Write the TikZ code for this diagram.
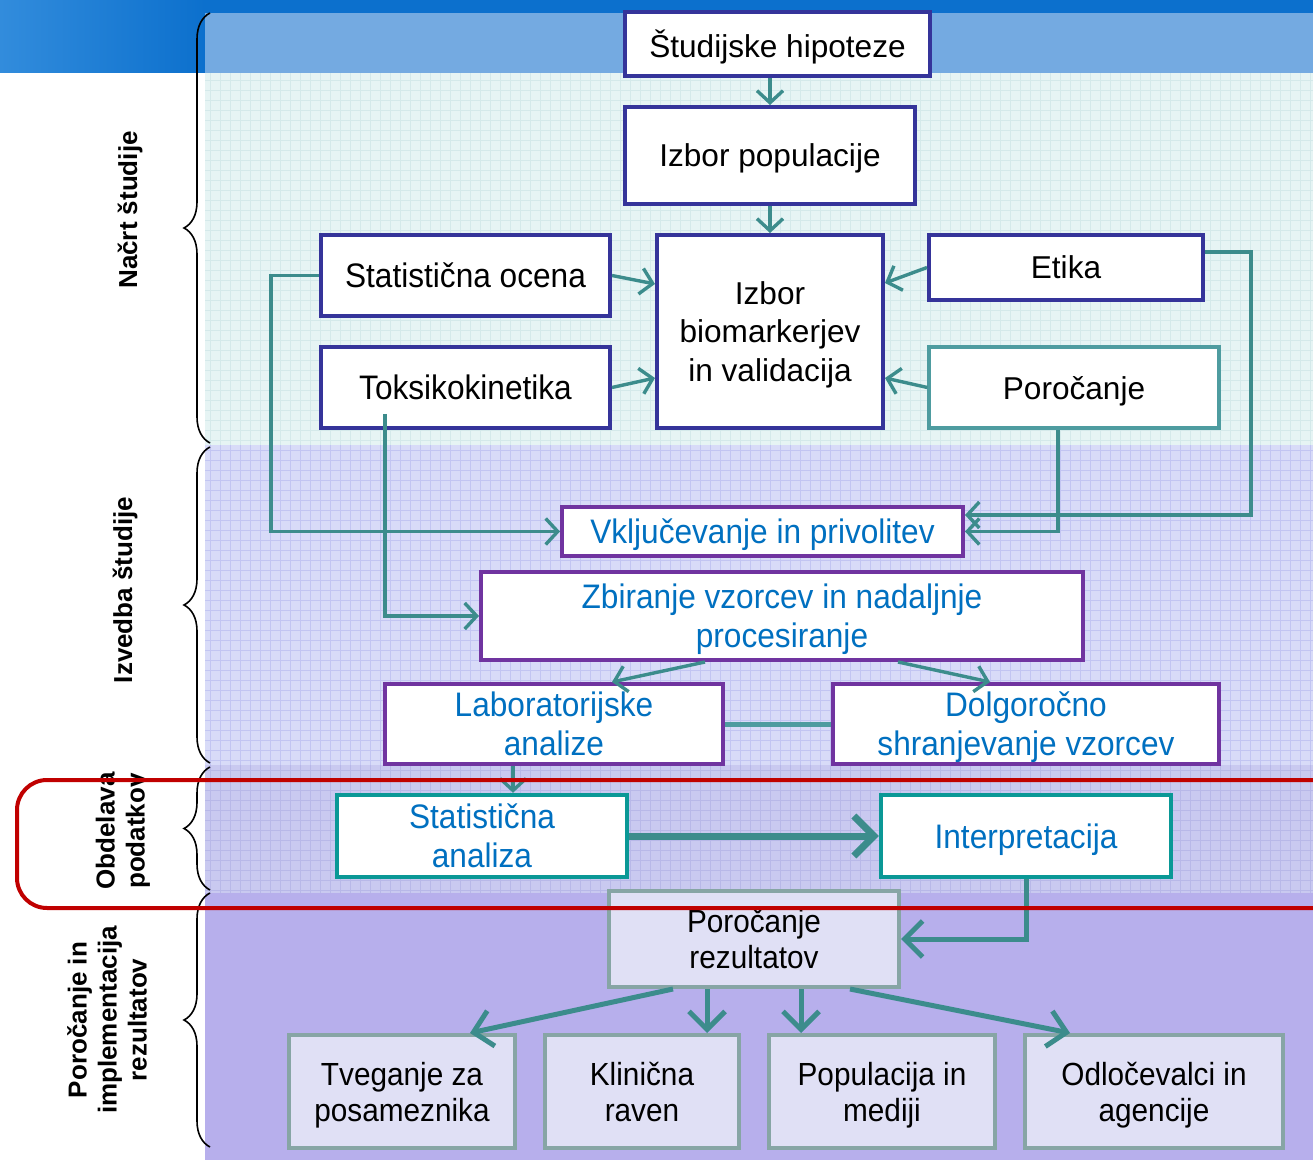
\documentclass[tikz,border=0pt]{standalone}
\usepackage{fontspec}
\setmainfont{Liberation Sans}
\newfontfamily\narrowsf[FakeStretch=0.93]{Liberation Sans}
\usetikzlibrary{positioning,arrows.meta,decorations.pathreplacing}

\definecolor{hypblue}{RGB}{53,52,154}
\definecolor{labpurple}{RGB}{112,52,160}
\definecolor{anateal}{RGB}{10,152,150}
\definecolor{repteal}{RGB}{78,156,160}
\definecolor{resgray}{RGB}{135,165,165}
\definecolor{resfill}{RGB}{224,224,245}
\definecolor{arrteal}{RGB}{60,140,140}
\definecolor{txtblue}{RGB}{0,112,192}
\definecolor{framered}{RGB}{192,0,0}
\definecolor{bandA}{RGB}{230,244,244}
\definecolor{bandB}{RGB}{216,219,248}
\definecolor{bandC}{RGB}{201,201,240}
\definecolor{bandD}{RGB}{183,175,236}
\definecolor{gridA}{RGB}{212,233,234}
\definecolor{gridB}{RGB}{194,197,242}
\definecolor{gridC}{RGB}{184,184,232}
\definecolor{bannerdark}{RGB}{12,112,205}
\definecolor{bannerlight}{RGB}{50,140,220}
\definecolor{bannerpat}{RGB}{116,170,225}

\begin{document}
\begin{tikzpicture}[
x=0.5pt, y=-0.5pt,
box/.style={
draw=hypblue,
line width=2pt,
fill=white,
align=center,
inner sep=0pt,
text depth=0pt,
font=\fontsize{15.8}{19.3}\selectfont
},
narrowbox/.style={box, font=\narrowsf\fontsize{17}{19.5}\selectfont},
purplebox/.style={narrowbox, draw=labpurple, text=txtblue},
tealbox/.style={narrowbox, draw=anateal, line width=2.2pt, text=txtblue},
resbox/.style={narrowbox, draw=resgray, fill=resfill,
font=\narrowsf\fontsize{16}{18}\selectfont},
arrow/.style={draw=arrteal, line width=1.7pt,
-{Straight Barb[length=6pt,width=13pt]}},
bigarrow/.style={arrow, line width=2.5pt,
-{Straight Barb[length=9pt,width=18pt]}},
phase/.style={rotate=90, align=center,
font=\bfseries\fontsize{13}{15}\selectfont},
bracket/.style={decorate, decoration={brace, amplitude=13pt}, line width=0.8pt}
]

\useasboundingbox (0,0) rectangle (1313,1160);

% background bands
\fill[white] (0,0) rectangle (1313,1160);
\shade[left color=bannerlight, right color=bannerdark] (0,0) rectangle (205,73);
\fill[bannerdark] (205,0) rectangle (1313,13);
\fill[bannerpat] (205,13) rectangle (1313,73);
\fill[bandA] (205,73) rectangle (1313,445);
\fill[bandB] (205,445) rectangle (1313,765);
\fill[bandC] (205,765) rectangle (1313,893);
\fill[bandD] (205,893) rectangle (1313,1160);
\draw[gridA, line width=0.3pt, step=5pt] (205,445) grid (1313,73);
\draw[gridB, line width=0.3pt, step=5pt] (205,765) grid (1313,445);
\draw[gridC, line width=0.3pt, step=5pt] (205,893) grid (1313,765);

% phases
\draw[bracket] (210,443) -- (210,13);
\draw[bracket] (210,763) -- (210,447);
\draw[bracket] (210,890) -- (210,767);
\draw[bracket] (210,1147) -- (210,893);

\node[phase] (ph1) at (130,210) {Načrt študije};
\node[phase] (ph2) at (125,590) {Izvedba študije};
\node[phase] (ph3) at (123,831) {Obdelava\\podatkov};
\node[phase] (ph4) at (107,1020) {Poročanje in\\implementacija\\rezultatov};

% design
\node[box, minimum width=152.5pt, minimum height=32pt] (hyp) at (777.5,44) {Študijske hipoteze};
\node[box, minimum width=145pt, minimum height=48.5pt] (pop) at (770,155.5) {Izbor populacije};
\node[box, minimum width=113pt, minimum height=96.5pt] (bio) at (770,331.5) {Izbor\\biomarkerjev\\in validacija};
\node[narrowbox, minimum width=144.5pt, minimum height=40.5pt] (statoc) at (465.5,275.5) {Statistična ocena};
\node[narrowbox, minimum width=144.5pt, minimum height=40.5pt] (toks) at (465.5,387.5) {Toksikokinetika};
\node[box, minimum width=137pt, minimum height=32.5pt] (etika) at (1066,267.5) {Etika};
\node[box, draw=repteal, line width=1.6pt, minimum width=145pt, minimum height=40.5pt] (poroc) at (1074,387.5) {Poročanje};

% execution
\node[purplebox, minimum width=200.5pt, minimum height=24.5pt] (vklj) at (762.5,531.5) {Vključevanje in privolitev};
\node[purplebox, minimum width=301pt, minimum height=44pt] (zbir) at (782,616) {Zbiranje vzorcev in nadaljnje\\procesiranje};
\node[purplebox, minimum width=169pt, minimum height=40pt] (lab) at (554,724) {Laboratorijske\\analize};
\node[purplebox, minimum width=193pt, minimum height=40pt] (dolg) at (1026,724) {Dolgoročno\\shranjevanje vzorcev};

% data
\node[tealbox, minimum width=145pt, minimum height=41pt] (statan) at (482,836) {Statistična\\analiza};
\node[tealbox, minimum width=145pt, minimum height=41pt] (interp) at (1026,836) {Interpretacija};

% reporting
\node[resbox, minimum width=145pt, minimum height=48pt] (porrez) at (754,939) {Poročanje\\rezultatov};
\node[resbox, minimum width=113pt, minimum height=56.5pt] (tveg) at (402,1091.5) {Tveganje za\\posameznika};
\node[resbox, minimum width=97pt, minimum height=56.5pt] (klin) at (642,1091.5) {Klinična\\raven};
\node[resbox, minimum width=113pt, minimum height=56.5pt] (popmed) at (882,1091.5) {Populacija in\\mediji};
\node[resbox, minimum width=129pt, minimum height=56.5pt] (odloc) at (1154,1091.5) {Odločevalci in\\agencije};

% connectors
\draw[arrow] ([xshift=-3.75pt]hyp.south) -- (pop.north);
\draw[arrow] (pop.south) -- (bio.north);
\draw[arrow] (statoc.east) -- ([yshift=23.75pt]bio.west);
\draw[arrow] (toks.east) -- ([yshift=-23.25pt]bio.west);
\draw[arrow] (etika.west) -- ([yshift=24.25pt]bio.east);
\draw[arrow] (poroc.west) -- ([yshift=-23.25pt]bio.east);
\draw[arrow] (statoc.west) -- ++(-48,0) |- (vklj.west);
\draw[arrow] ([xshift=-40.25pt,yshift=8pt]toks.south) |- (zbir.west);
\draw[arrow] ([yshift=7.75pt]etika.east) -- ++(46,0) |- ([yshift=8.25pt]vklj.east);
\draw[arrow] ([xshift=-8pt]poroc.south) |- (vklj.east);
\draw[arrow] ([xshift=-38.5pt]zbir.south) -- ([xshift=29pt]lab.north);
\draw[arrow] ([xshift=58pt]zbir.south) -- ([xshift=-18pt]dolg.north);
\draw[draw=repteal, line width=2.5pt] (lab.east) -- (dolg.west);
\draw[arrow] ([xshift=-20.5pt]lab.south) -- ([xshift=15.5pt]statan.north);
\draw[bigarrow, line width=3.5pt, -{Straight Barb[length=10pt,width=20pt]}] (statan.east) -- (interp.west);
\draw[bigarrow] (interp.south) |- (porrez.east);
\draw[bigarrow] ([xshift=-40.5pt]porrez.south) -- ([xshift=34pt]tveg.north);
\draw[bigarrow] ([xshift=-23.5pt]porrez.south) -- ([xshift=32.5pt]klin.north);
\draw[bigarrow] ([xshift=23.5pt]porrez.south) -- ([xshift=-40.5pt]popmed.north);
\draw[bigarrow] ([xshift=48pt]porrez.south) -- ([xshift=-42pt]odloc.north);

% highlight
\draw[framered, line width=2pt, rounded corners=15pt] (17,780) rectangle (1360,908);

\end{tikzpicture}
\end{document}
